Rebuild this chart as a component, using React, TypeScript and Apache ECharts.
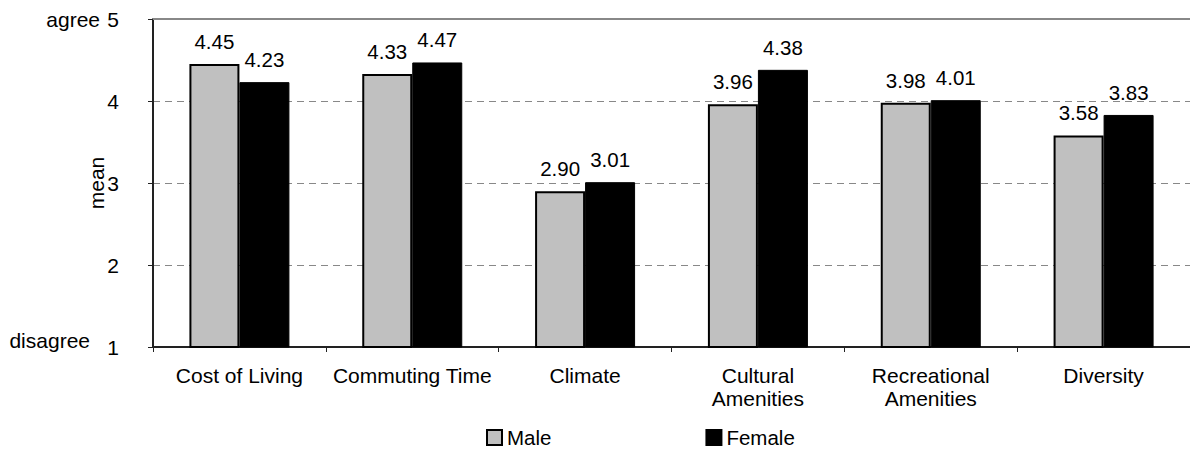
import React, { useEffect, useRef } from "react";
import * as echarts from "echarts";

const categories = [
  "Cost of Living",
  "Commuting Time",
  "Climate",
  "Cultural Amenities",
  "Recreational Amenities",
  "Diversity",
];
const wrappedLabels: Record<string, string> = {
  "Cultural Amenities": "Cultural\nAmenities",
  "Recreational Amenities": "Recreational\nAmenities",
};
const maleValues = [4.45, 4.33, 2.9, 3.96, 3.98, 3.58];
const femaleValues = [4.23, 4.47, 3.01, 4.38, 4.01, 3.83];
const seriesNames = ["Male", "Female"];
const yMin = 1;
const yMax = 5;
const yInterval = 1;
const yAxisName = "mean";
const topAnchor = "agree";
const bottomAnchor = "disagree";

const FONT = "Arial, 'Liberation Sans', sans-serif";

export default function App() {
  const ref = useRef<HTMLDivElement>(null);
  useEffect(() => {
    if (!ref.current) return;
    const chart = echarts.init(ref.current, undefined, { renderer: "svg" });
    const labelCfg = {
      show: true,
      position: "top" as const,
      distance: 12,
      fontSize: 20.5,
      fontFamily: FONT,
      color: "#000",
      formatter: (p: any) => Number(p.value).toFixed(2),
    };
    chart.setOption({
      animation: false,
      backgroundColor: "#fff",
      textStyle: { fontFamily: FONT, color: "#000" },
      grid: { left: 153, right: -5, top: 19, bottom: 104, containLabel: false },
      legend: {
        data: seriesNames,
        left: 486,
        top: 427,
        padding: 0,
        itemWidth: 15,
        itemHeight: 15,
        itemGap: 154,
        icon: "rect",
        textStyle: { fontSize: 20.5, lineHeight: 20, fontFamily: FONT, color: "#000" },
      },
      xAxis: [
        {
          type: "category",
          data: categories,
          axisLine: { show: true, lineStyle: { color: "#222", width: 2 } },
          axisTick: { show: true, length: 5, interval: 0, lineStyle: { color: "#222" } },
          axisLabel: {
            interval: 0,
            margin: 17,
            fontSize: 21,
            lineHeight: 23,
            fontFamily: FONT,
            color: "#000",
            formatter: (v: string) => wrappedLabels[v] || v,
          },
        },
        {
          type: "category",
          data: categories,
          position: "top",
          axisLine: { show: true, lineStyle: { color: "#888", width: 2 } },
          axisTick: { show: false },
          axisLabel: { show: false },
        },
      ],
      yAxis: {
        type: "value",
        min: yMin,
        max: yMax,
        interval: yInterval,
        axisLine: { show: true, lineStyle: { color: "#222", width: 2 } },
        axisTick: { show: true, length: 5, lineStyle: { color: "#222" } },
        axisLabel: { margin: 34, fontSize: 21, fontFamily: FONT, color: "#000" },
        splitLine: {
          show: true,
          lineStyle: { color: "#888", width: 1, type: [7, 5] },
        },
      },
      graphic: [
        {
          type: "text",
          x: 100,
          y: 19,
          style: {
            text: topAnchor,
            fontSize: 21,
            fontFamily: FONT,
            fill: "#000",
            align: "right",
            verticalAlign: "middle",
          },
        },
        {
          type: "text",
          x: 90,
          y: 340,
          style: {
            text: bottomAnchor,
            fontSize: 21,
            fontFamily: FONT,
            fill: "#000",
            align: "right",
            verticalAlign: "middle",
          },
        },
        {
          type: "text",
          x: 96,
          y: 183,
          rotation: Math.PI / 2,
          style: {
            text: yAxisName,
            fontSize: 21,
            fontFamily: FONT,
            fill: "#000",
            align: "center",
            verticalAlign: "middle",
          },
        },
      ],
      series: [
        {
          name: seriesNames[0],
          type: "bar",
          data: maleValues,
          barWidth: 50,
          barGap: "0%",
          itemStyle: { color: "#C0C0C0", borderColor: "#000", borderWidth: 2 },
          label: labelCfg,
        },
        {
          name: seriesNames[1],
          type: "bar",
          data: femaleValues,
          barWidth: 50,
          barGap: "0%",
          itemStyle: { color: "#000", borderColor: "#000", borderWidth: 1 },
          label: labelCfg,
        },
      ],
    });
    return () => chart.dispose();
  }, []);
  return (
    <div
      ref={ref}
      style={{ position: "fixed", left: 0, top: 0, width: 1190, height: 451 }}
    />
  );
}
